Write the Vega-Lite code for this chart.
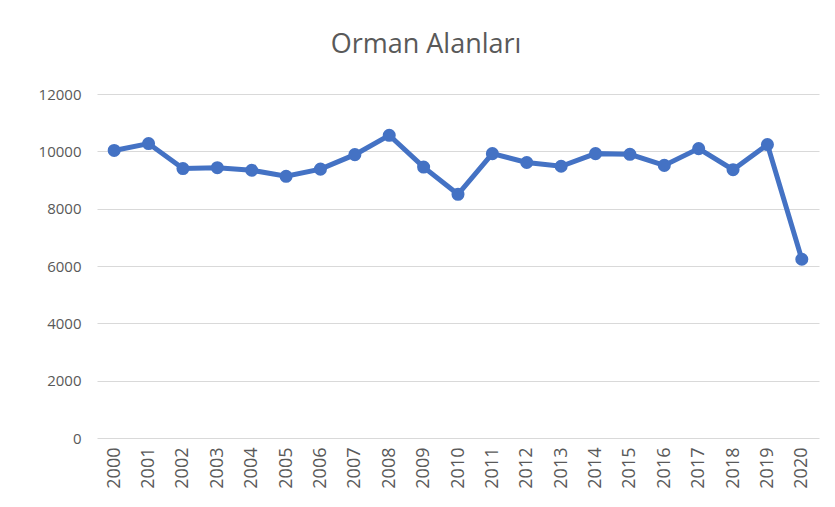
{
  "$schema": "https://vega.github.io/schema/vega-lite/v6.json",
  "autosize": "none",
  "width": 722,
  "height": 344,
  "padding": {"left": 97, "top": 94, "right": 16, "bottom": 69},
  "background": "white",
  "title": {
    "text": "Orman Alanları",
    "font": "Open Sans",
    "fontSize": 27,
    "fontWeight": "normal",
    "color": "#595959",
    "anchor": "middle",
    "offset": 28,
    "dx": -32
  },
  "data": {
    "values": [
      {"yil": "2000", "alan": 10030},
      {"yil": "2001", "alan": 10270},
      {"yil": "2002", "alan": 9400},
      {"yil": "2003", "alan": 9430},
      {"yil": "2004", "alan": 9340},
      {"yil": "2005", "alan": 9130},
      {"yil": "2006", "alan": 9380},
      {"yil": "2007", "alan": 9885},
      {"yil": "2008", "alan": 10560},
      {"yil": "2009", "alan": 9450},
      {"yil": "2010", "alan": 8500},
      {"yil": "2011", "alan": 9920},
      {"yil": "2012", "alan": 9610},
      {"yil": "2013", "alan": 9480},
      {"yil": "2014", "alan": 9920},
      {"yil": "2015", "alan": 9895},
      {"yil": "2016", "alan": 9510},
      {"yil": "2017", "alan": 10095},
      {"yil": "2018", "alan": 9360},
      {"yil": "2019", "alan": 10235},
      {"yil": "2020", "alan": 6235}
    ]
  },
  "mark": {"type": "line", "color": "#4472C4", "strokeWidth": 5, "point": {"filled": true, "size": 170, "color": "#4472C4", "opacity": 1}},
  "encoding": {
    "x": {
      "field": "yil",
      "type": "ordinal",
      "title": null,
      "scale": {"type": "point", "padding": 0.5},
      "axis": {
        "labelAngle": -90,
        "labelAlign": "right",
        "labelBaseline": "middle",
        "labelFont": "Open Sans",
        "labelFontSize": 18,
        "labelColor": "#595959",
        "labelPadding": 9,
        "ticks": false,
        "domain": false,
        "grid": false
      }
    },
    "y": {
      "field": "alan",
      "type": "quantitative",
      "title": null,
      "scale": {"domain": [0, 12000], "nice": false},
      "axis": {
        "values": [0, 2000, 4000, 6000, 8000, 10000, 12000],
        "format": "d",
        "labelFont": "Open Sans",
        "labelFontSize": 15,
        "labelColor": "#595959",
        "labelPadding": 16,
        "ticks": false,
        "domain": false,
        "grid": true,
        "gridColor": "#d9d9d9",
        "gridWidth": 1.2
      }
    }
  },
  "config": {"view": {"stroke": null}}
}
